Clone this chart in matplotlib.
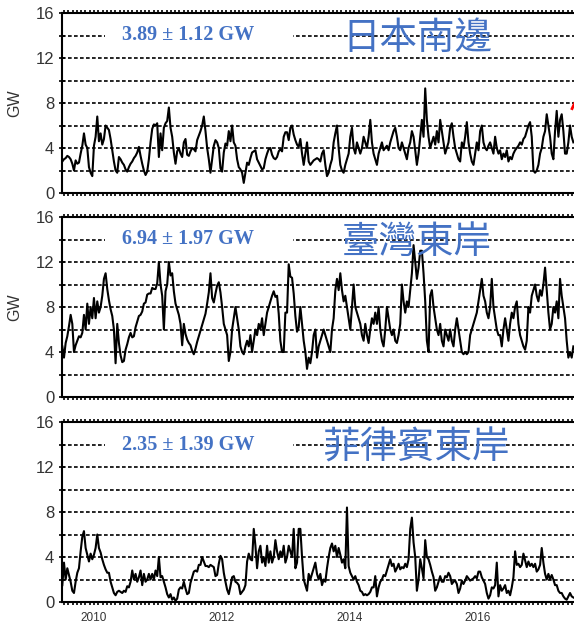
import matplotlib.pyplot as plt
import numpy as np
from matplotlib.patches import Rectangle
from matplotlib.ticker import MultipleLocator

plt.rcParams['font.family'] = ['Liberation Sans', 'DejaVu Sans']

# regions and their mean +- std
regions = ['日本南邊', '臺灣東岸', '菲律賓東岸']
stats = ['3.89 ± 1.12 GW', '6.94 ± 1.97 GW', '2.35 ± 1.39 GW']

# sampled power series (GW), evenly spaced from mid 2009 to mid 2017
japan = [
    2.8, 3.0, 3.1, 3.3, 3.2, 3.0, 2.6, 2.0, 2.9, 2.6,
    2.7, 3.5, 4.2, 5.3, 4.3, 4.0, 2.3, 1.8, 1.5, 4.2,
    5.0, 6.8, 4.6, 5.3, 4.3, 4.8, 6.0, 5.8, 5.6, 4.8,
    3.8, 2.8, 2.0, 1.8, 3.2, 3.0, 2.7, 2.5, 2.1, 1.9,
    2.3, 2.6, 2.8, 3.1, 3.3, 3.6, 4.1, 3.3, 2.6, 2.0,
    1.6, 1.9, 3.0, 4.5, 5.7, 6.1, 6.0, 6.2, 3.2, 5.3,
    3.8, 5.8, 6.2, 6.4, 7.6, 5.8, 5.0, 3.6, 2.6, 3.7,
    4.0, 3.5, 3.2, 4.5, 4.8, 3.4, 3.3, 3.7, 4.0, 3.9,
    3.7, 4.7, 5.1, 5.5, 6.0, 6.8, 5.5, 4.0, 3.0, 1.8,
    3.0, 4.2, 4.7, 4.5, 4.0, 2.2, 1.9, 3.6, 4.4, 4.2,
    5.5, 4.6, 6.0, 4.5, 4.2, 3.0, 2.3, 2.1, 1.8, 0.9,
    1.8, 2.7, 2.5, 3.1, 3.6, 3.7, 3.8, 3.0, 2.7, 2.4,
    2.1, 2.2, 3.0, 3.5, 3.9, 4.0, 3.4, 3.1, 3.0, 3.2,
    3.7, 3.9, 3.7, 5.0, 5.4, 5.4, 4.7, 5.8, 6.0, 5.2,
    4.7, 4.3, 4.1,
    4.8, 3.5, 2.5, 3.5, 4.5, 2.8, 2.5, 2.7, 2.9, 3.0,
    3.1, 3.0, 2.8, 3.5, 3.8, 2.5, 1.5, 1.8, 2.5, 3.0,
    4.5, 5.3, 6.0, 4.0, 2.5, 2.0, 1.8, 2.5, 3.0, 3.5,
    5.0, 5.8, 4.0, 3.5, 4.5, 4.0, 3.5, 4.0, 5.0, 4.5,
    4.0, 5.0, 6.5, 4.5, 3.5, 3.0, 2.5, 3.5, 4.0, 4.5,
    3.8, 4.0, 4.2, 3.8, 4.5, 5.0, 5.5, 5.8, 5.0, 4.0,
    3.8, 4.5, 4.0, 3.5, 3.0, 4.0, 4.5, 5.5, 5.0, 3.8,
    2.5, 3.5, 5.0, 6.5, 5.0, 9.3, 6.5, 5.0, 4.0, 4.5,
    5.0, 4.3, 5.5, 4.5, 6.5, 5.5, 4.5, 3.5, 4.0, 4.5,
    5.8, 6.2, 5.0, 4.0, 3.5, 3.0, 2.8, 4.5, 4.0, 5.0,
    6.3, 4.5, 3.5, 2.8, 2.5, 3.5, 4.5, 3.8, 5.5, 6.0,
    4.5, 4.0, 3.8, 4.2, 4.5, 4.0, 3.5, 5.0, 4.0, 3.5,
    3.8, 3.0, 3.5, 3.2, 3.8, 2.8, 3.2, 3.0, 3.5, 3.8,
    4.0, 4.2, 4.5, 4.3, 4.8, 5.0, 5.5, 6.0, 6.3, 5.0,
    2.0, 1.8, 2.0, 2.5, 3.5, 4.0, 5.0, 5.5, 7.0, 6.0,
    5.0, 3.5, 3.0, 5.5, 7.3, 5.0, 6.5, 7.0, 5.5, 3.5,
    3.5, 4.5, 6.0, 5.0, 4.5,
]

taiwan = [
    4.5, 3.5, 4.8, 5.4, 6.3, 7.3, 6.5, 4.0, 4.6, 5.0,
    5.4, 5.3, 5.7, 7.3, 6.0, 8.3, 6.5, 8.0, 7.0, 8.8,
    7.0, 8.5, 7.5, 8.0, 9.0, 10.5, 11.0, 9.6, 8.6, 7.8,
    7.2, 6.0, 3.0, 6.5, 4.8, 3.7, 3.1, 3.2, 4.2, 4.7,
    5.3, 5.7, 5.3, 5.4, 6.2, 6.7, 7.2, 7.3, 7.6, 8.3,
    8.4, 9.1, 9.2, 9.2, 9.7, 9.6, 9.6, 10.1, 12.0, 10.0,
    9.0, 6.0, 9.4, 10.0, 12.0, 10.8, 11.0, 9.4, 8.3, 7.8,
    7.3, 6.5, 4.6, 6.5, 5.6, 5.1, 4.8, 4.6, 4.1, 3.8,
    4.3, 4.9, 5.4, 5.9, 6.4, 6.9, 7.4, 8.3, 9.3, 11.0,
    8.8, 8.4, 9.2, 9.9, 10.2, 9.3, 8.0, 6.5, 6.0, 5.5,
    3.2, 4.0, 6.0, 7.0, 8.0, 7.0, 6.0, 4.5, 4.0, 3.8,
    4.5, 5.0, 4.5, 5.5, 4.0, 5.0, 6.0, 5.5, 6.5, 6.0,
    7.0, 5.5, 6.5, 7.5, 8.0, 8.5, 9.0, 9.4, 8.9, 9.0,
    7.4, 5.0, 4.0, 4.0, 7.5, 7.5, 11.8, 10.7, 10.6, 9.2,
    7.2, 5.8, 6.2,
    8.0, 6.5, 5.0, 4.0, 2.5, 3.5, 3.0, 4.0, 5.5, 6.0,
    3.5, 4.5, 5.0, 5.5, 6.0, 5.5, 5.0, 4.5, 4.0, 6.0,
    7.0, 9.5, 10.5, 9.5, 11.0, 9.5, 8.5, 9.0, 8.0, 7.0,
    6.0, 8.0, 10.0, 8.0, 7.5, 7.0, 6.5, 5.5, 5.0, 6.5,
    5.5, 4.8, 6.0, 7.0, 6.5, 7.5, 6.5, 8.0, 6.0, 5.0,
    4.5, 6.0, 8.0, 7.0, 6.0, 5.5, 6.0, 5.0, 4.8, 5.5,
    6.5, 10.0, 8.5, 7.5, 8.5, 8.0, 9.5, 11.0, 13.5, 12.0,
    10.5, 11.5, 13.0, 13.0, 11.0, 8.5, 5.0, 4.0, 9.0, 9.5,
    8.0, 7.0, 6.0, 5.5, 6.5, 5.0, 4.5, 6.0, 5.5, 5.0,
    6.0, 5.0, 4.5, 6.0, 7.0, 6.0, 5.0, 4.0, 3.8, 4.0,
    3.8, 4.0, 5.5, 6.0, 6.5, 7.0, 7.5, 8.5, 9.5, 10.5,
    9.0, 8.5, 7.5, 7.0, 8.0, 10.5, 8.0, 7.0, 6.0, 5.5,
    5.5, 4.5, 6.0, 7.0, 6.0, 5.0, 6.5, 7.5, 7.0, 8.0,
    8.5, 6.5, 5.5, 5.0, 4.5, 4.2, 5.0, 8.0, 7.5, 9.0,
    9.5, 10.0, 9.0, 8.5, 9.5, 9.0, 10.0, 11.5, 9.5, 7.5,
    6.0, 6.5, 8.0, 7.5, 8.5, 7.0, 10.5, 9.0, 8.0, 7.0,
    5.0, 3.5, 4.0, 3.5, 4.5,
]

philippines = [
    1.5, 3.5, 2.0, 3.0, 2.4, 1.8, 1.0, 0.8, 1.8, 2.6,
    3.0, 4.5, 5.8, 6.3, 4.8, 4.2, 3.6, 4.3, 3.8, 4.2,
    4.8, 6.0, 4.8, 4.4, 3.8, 3.3, 2.9, 2.6, 2.6, 1.8,
    1.3, 0.8, 0.6, 0.9, 1.0, 0.9, 0.8, 1.0, 0.9, 1.4,
    1.3, 1.8, 2.8, 2.0, 2.5, 1.8, 2.2, 2.8, 1.5, 2.5,
    1.8, 2.0, 2.5, 2.0, 2.5, 2.0, 2.8, 2.3, 4.0, 2.2,
    2.3, 1.8, 1.3, 0.7, 0.4, 0.7, 0.2, 0.4, 0.1, 0.3,
    1.1, 1.3, 1.2, 1.8, 1.2, 0.7, 0.8, 1.7, 2.2, 2.7,
    2.8, 2.7, 3.3, 3.3, 4.0, 3.6, 3.2, 3.2, 3.1, 3.3,
    3.2, 3.1, 2.3, 2.4, 3.4, 4.1, 3.8, 2.6, 1.8, 1.1,
    0.7, 1.4, 2.2, 2.3, 1.8, 1.7, 1.5, 0.7, 0.9, 1.1,
    1.5, 3.6, 4.3, 3.8, 3.7, 6.5, 5.0, 3.0, 4.5, 5.0,
    3.5, 4.0, 3.2, 5.0, 3.5, 4.5, 3.5, 4.0, 5.5, 4.5,
    3.8, 4.5, 4.0, 5.0, 3.5, 4.0, 5.0, 4.5, 4.0, 6.5,
    3.0, 3.5, 6.5,
    6.5, 4.0, 2.0, 1.5, 1.0, 2.5, 2.0, 2.5, 3.0, 3.5,
    2.5, 2.0, 2.5, 1.5, 2.0, 1.8, 3.0, 4.0, 4.8, 5.2,
    4.5, 5.0, 4.0, 4.8, 4.2, 3.5, 3.8, 3.0, 8.4, 3.2,
    2.6, 2.3, 2.0, 2.3, 1.8, 1.5, 1.0, 0.9, 0.6, 0.7,
    0.6, 0.7, 0.9, 1.3, 1.3, 2.3, 0.5, 1.3, 1.8, 2.0,
    2.4, 2.3, 2.8, 3.3, 3.8, 3.2, 3.4, 2.7, 3.0, 3.4,
    2.9, 3.1, 3.0, 3.4, 3.1, 3.8, 6.5, 7.5, 5.3, 4.0,
    1.0, 2.0, 3.8, 3.0, 2.1, 5.5, 4.0, 3.8, 3.3, 2.7,
    2.2, 1.0, 1.3, 1.8, 2.3, 1.8, 1.8, 2.3, 2.2, 2.6,
    2.3, 1.6, 1.8, 1.9, 1.6, 0.8, 1.2, 1.9, 1.6, 1.9,
    2.3, 2.1, 1.9, 2.0, 2.1, 2.3, 2.1, 2.7, 2.7, 2.2,
    1.9, 1.6, 0.8, 0.3, 0.6, 1.3, 1.2, 1.5, 3.5, 0.5,
    1.5, 1.0, 1.2, 1.5, 0.8, 1.0, 0.6, 1.3, 2.2, 4.5,
    3.3, 3.4, 3.1, 3.3, 4.3, 3.7, 3.1, 3.6, 3.2, 3.4,
    3.1, 3.4, 2.7, 2.9, 3.3, 4.8, 3.5, 2.5, 2.0, 2.5,
    2.0, 2.4, 2.0, 1.5, 1.5, 1.0, 0.8, 0.8, 0.5, 0.3,
    0.2, 0.5, 0.8, 0.5, 0.4,
]

series = [japan, taiwan, philippines]
t_first, t_last = 2009.505, 2017.49
year_ticks = [2010, 2012, 2014, 2016]
y_ticks = [0, 4, 8, 12, 16]

blue = '#4472C4'
fig = plt.figure(figsize=(5.74, 6.24), dpi=100)

tops = [13, 217, 422]  # panel tops in pixels
for i in range(3):
    ax = fig.add_axes([62/574, 1 - (tops[i] + 180)/624, 512/574, 180/624])
    vals = series[i]
    t = np.linspace(t_first, t_last, len(vals))
    ax.plot(t, vals, color='black', lw=1.5, zorder=3)

    for g in range(2, 16, 2):
        ax.axhline(g, color='black', ls=(0, (2.2, 1.4)), lw=1.2, zorder=1)

    ax.set_xlim(2009.5, 2017.5)
    ax.set_ylim(0, 16)

    for s in ['left', 'top', 'bottom']:
        ax.spines[s].set_linewidth(1.5)
        ax.spines[s].set_color('black')
    ax.spines['right'].set_visible(False)

    ax.set_yticks(y_ticks)
    ax.yaxis.set_minor_locator(MultipleLocator(2))
    ax.tick_params(axis='y', which='both', direction='inout', length=5,
                   width=1.2, labelsize=12, labelcolor='#333333', pad=3)

    ax.set_xticks(year_ticks)
    ax.xaxis.set_minor_locator(MultipleLocator(1/15))
    ax.tick_params(axis='x', which='both', direction='out', length=2.5,
                   width=1.2, top=True, labelsize=8.5, labelcolor='#333333', pad=4.5)
    if i < 2:
        ax.tick_params(axis='x', labelbottom=False)
        ax.set_ylabel('GW', fontsize=11.5, color='#333333')
        ax.yaxis.set_label_coords(-0.078, 0.5)

    # white block behind the stats text
    ax.add_patch(Rectangle((2010.17, 13.35), 2.94, 1.3, fc='white', ec='none', zorder=2))
    ax.text(2011.47, 14, stats[i], color=blue, fontsize=14.5, fontweight='bold',
            family=['Liberation Serif', 'DejaVu Serif'], ha='center', va='center', zorder=4)
    ax.text(2015.05, 13.7, regions[i], color=blue, fontsize=27,
            family=['Noto Sans CJK TC', 'DejaVu Sans'], fontweight='light',
            ha='center', va='center', zorder=4)

    if i == 0:
        ax.plot([2017.47, 2017.52], [7.5, 8.1], color='red', lw=2, zorder=5, clip_on=False)

fig.savefig('out.png', dpi=100)
